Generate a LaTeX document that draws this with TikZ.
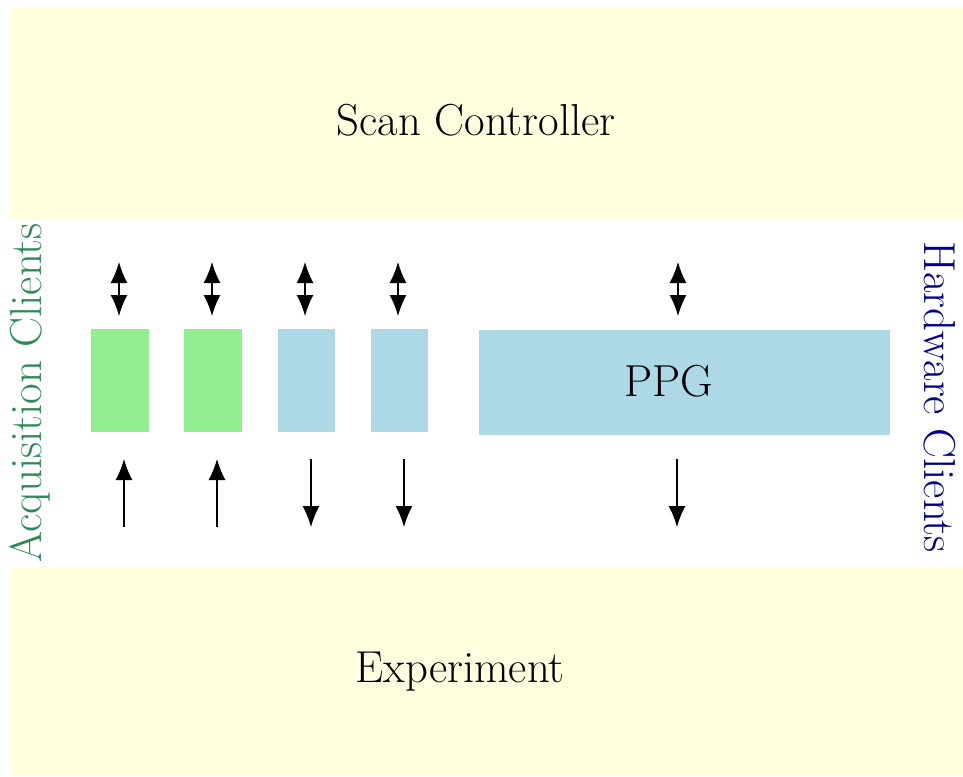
\documentclass[tikz,border=0pt]{standalone}
\usetikzlibrary{arrows.meta}
\definecolor{bgyellow}{HTML}{FFFFE0}
\definecolor{acqgreen}{HTML}{90EE90}
\definecolor{hwblue}{HTML}{ADD8E6}
\definecolor{acqtext}{HTML}{2E8B57}
\definecolor{hwtext}{HTML}{00008B}
\begin{document}
\begin{tikzpicture}[x=0.5pt,y=-0.5pt,
  bigfont/.style={font=\fontsize{22.4}{26}\selectfont},
  band/.style={fill=bgyellow, draw=none, minimum width=477pt, inner sep=0pt},
  clientbox/.style={draw=none, minimum height=51.5pt, inner sep=0pt},
  acqbox/.style={clientbox, fill=acqgreen, minimum width=29pt},
  hwbox/.style={clientbox, fill=hwblue, minimum width=28.5pt},
  arr/.style={-{Latex[length=10.5pt,width=8.5pt]}, line width=0.7pt},
  darr/.style={{Latex[length=10.5pt,width=8.5pt]}-{Latex[length=10.5pt,width=8.5pt]}, line width=0.7pt}]
\useasboundingbox (0,0) rectangle (963,776);
% bands
\node[band, minimum height=105.5pt] (scan) at (486,113.5) {};
\node[bigfont] (scantext) at (476,120) {Scan Controller};
\node[band, minimum height=104pt] (exp) at (486,672) {};
\node[bigfont] (exptext) at (460,672) {Experiment};
% side labels
\node[bigfont, text=acqtext, rotate=90] (acq) at (30,393) {Acquisition Clients};
\node[bigfont, text=hwtext, rotate=-90] (hw) at (940,397) {Hardware Clients};
% client boxes
\node[acqbox] (a1) at (120,380.5) {};
\node[acqbox] (a2) at (213,380.5) {};
\node[hwbox] (h1) at (306.5,380.5) {};
\node[hwbox] (h2) at (399.5,380.5) {};
\node[clientbox, fill=hwblue, minimum width=205.5pt, minimum height=52.5pt] (ppg) at (684.5,382.5) {};
\node[bigfont] (ppgtext) at (669,381) {PPG};
% arrow end points
\foreach \n/\x in {1/119,2/212,3/305,4/398,5/678}{
  \coordinate (t\n) at (\x,262);
  \coordinate (b\n) at (\x,316);
}
\foreach \n/\x in {1/124,2/217,3/311,4/404,5/677}{
  \coordinate (u\n) at (\x,459);
  \coordinate (l\n) at (\x,527);
}
\foreach \n in {1,...,5}{\draw[darr] (t\n) -- (b\n);}
\draw[arr] (l1) -- (u1);
\draw[arr] (l2) -- (u2);
\draw[arr] (u3) -- (l3);
\draw[arr] (u4) -- (l4);
\draw[arr] (u5) -- (l5);
\end{tikzpicture}
\end{document}
